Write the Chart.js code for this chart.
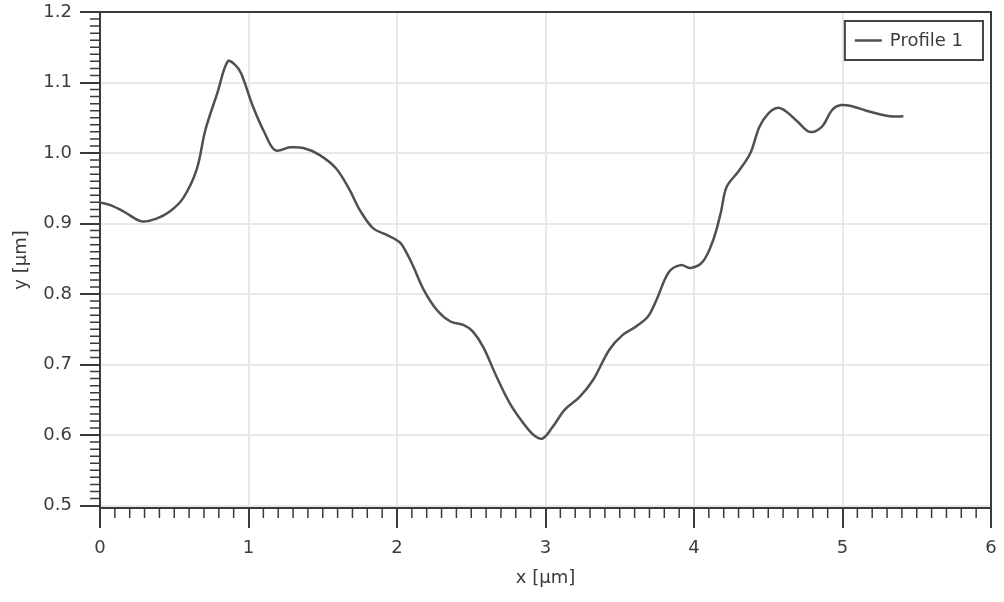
<!DOCTYPE html>
<html>
<head>
<meta charset="utf-8">
<script src="https://cdn.jsdelivr.net/npm/chart.js@4.4.1/dist/chart.umd.min.js"></script>
<style>
  html, body { margin: 0; padding: 0; background: #fff; }
</style>
</head>
<body>
<canvas id="chartProfile" width="1004" height="602"></canvas>
<script>
// profile: x in µm, y in µm
const xPos = [
  0.00, 0.07, 0.16, 0.28, 0.38, 0.47, 0.56, 0.65, 0.71, 0.79,
  0.86, 0.91, 0.95, 1.03, 1.11, 1.18, 1.28, 1.37, 1.48, 1.59,
  1.68, 1.75, 1.84, 1.93, 2.02, 2.06, 2.11, 2.18, 2.27, 2.36,
  2.45, 2.51, 2.58, 2.67, 2.76, 2.85, 2.92, 2.98, 3.05, 3.13,
  3.23, 3.32, 3.43, 3.52, 3.61, 3.69, 3.75, 3.83, 3.91, 3.98,
  4.06, 4.13, 4.18, 4.22, 4.30, 4.38, 4.44, 4.50, 4.56, 4.62,
  4.70, 4.78, 4.86, 4.93, 4.99, 5.07, 5.16, 5.25, 5.32, 5.41
];
const profile1 = [
  0.930, 0.926, 0.917, 0.903, 0.907, 0.917, 0.936, 0.976, 1.033, 1.085,
  1.130, 1.125, 1.113, 1.066, 1.028, 1.004, 1.008, 1.007, 0.997, 0.978,
  0.948, 0.919, 0.893, 0.884, 0.873, 0.860, 0.839, 0.806, 0.777, 0.761,
  0.756, 0.747, 0.725, 0.683, 0.645, 0.617, 0.600, 0.595, 0.612, 0.636,
  0.654, 0.678, 0.721, 0.742, 0.754, 0.768, 0.793, 0.831, 0.841, 0.837,
  0.846, 0.877, 0.915, 0.952, 0.974, 1.000, 1.037, 1.056, 1.064, 1.059,
  1.044, 1.030, 1.037, 1.061, 1.068, 1.066, 1.060, 1.055, 1.052, 1.052
];
const xTicks = [0, 1, 2, 3, 4, 5, 6];
const yTicks = [0.5, 0.6, 0.7, 0.8, 0.9, 1.0, 1.1, 1.2];
const seriesName = 'Profile 1';

const axisColor = '#3a3a3a';
const textColor = '#3c3c3c';

Chart.defaults.font.family = 'Verdana, "DejaVu Sans", sans-serif';
Chart.defaults.font.size = 18;
Chart.defaults.color = textColor;

// minor ticks, top/right frame and the boxed legend
const frameAndLegend = {
  id: 'frameAndLegend',
  afterDraw(chart) {
    const { ctx, chartArea: a } = chart;
    const x = chart.scales.x, y = chart.scales.y;
    ctx.save();
    ctx.strokeStyle = axisColor;
    ctx.lineWidth = 1.5;
    ctx.beginPath();
    for (let i = 1; i < 60; i++) {
      if (i % 10 === 0) continue;
      const px = x.getPixelForValue(i / 10);
      ctx.moveTo(px, a.bottom);
      ctx.lineTo(px, a.bottom + 10);
    }
    for (let i = 51; i < 120; i++) {
      if (i % 10 === 0) continue;
      const py = y.getPixelForValue(i / 100);
      ctx.moveTo(a.left - 10, py);
      ctx.lineTo(a.left, py);
    }
    ctx.stroke();

    ctx.lineWidth = 2;
    ctx.beginPath();
    ctx.moveTo(a.left - 20, a.top);
    ctx.lineTo(a.right, a.top);
    ctx.lineTo(a.right, a.bottom + 20);
    ctx.stroke();

    // legend
    ctx.font = '18px Verdana, "DejaVu Sans", sans-serif';
    const tw = ctx.measureText(seriesName).width;
    const boxW = 45 + tw + 20;
    const boxH = 39;
    const bx = a.right - 8 - boxW;
    const by = a.top + 9;
    ctx.fillStyle = '#fff';
    ctx.fillRect(bx, by, boxW, boxH);
    ctx.strokeStyle = '#444';
    ctx.lineWidth = 2;
    ctx.strokeRect(bx, by, boxW, boxH);
    ctx.strokeStyle = '#505050';
    ctx.lineWidth = 2.5;
    ctx.beginPath();
    ctx.moveTo(bx + 10, by + boxH / 2);
    ctx.lineTo(bx + 37, by + boxH / 2);
    ctx.stroke();
    ctx.fillStyle = textColor;
    ctx.textBaseline = 'middle';
    ctx.textAlign = 'left';
    ctx.fillText(seriesName, bx + 45, by + boxH / 2 + 1);
    ctx.restore();
  }
};

new Chart(document.getElementById('chartProfile'), {
  type: 'line',
  data: {
    datasets: [{
      label: seriesName,
      data: xPos.map((v, i) => ({ x: v, y: profile1[i] })),
      borderColor: '#505050',
      borderWidth: 2.5,
      pointRadius: 0,
      tension: 0.35,
      fill: false
    }]
  },
  options: {
    responsive: false,
    animation: false,
    devicePixelRatio: 1,
    layout: { padding: { left: 0, top: 12, right: 13, bottom: 0 } },
    plugins: {
      legend: { display: false },
      tooltip: { enabled: false }
    },
    scales: {
      x: {
        type: 'linear',
        min: 0,
        max: 6,
        afterBuildTicks: s => { s.ticks = xTicks.map(v => ({ value: v })); },
        afterFit: s => { s.height = 94; s.paddingLeft = 0; s.paddingRight = 0; },
        grid: { color: '#e8e8e8', lineWidth: 2, tickColor: axisColor, tickLength: 20, tickWidth: 2 },
        border: { color: axisColor, width: 2 },
        ticks: { padding: 10, maxRotation: 0, callback: v => String(v) },
        title: { display: true, text: 'x [µm]', padding: { top: 0, bottom: 13 } }
      },
      y: {
        min: 0.4965,
        max: 1.2,
        afterBuildTicks: s => { s.ticks = yTicks.map(v => ({ value: v })); },
        afterFit: s => { s.width = 100; s.paddingTop = 0; s.paddingBottom = 0; },
        grid: { color: '#e8e8e8', lineWidth: 2, tickColor: axisColor, tickLength: 20, tickWidth: 2 },
        border: { color: axisColor, width: 2 },
        ticks: { padding: 8, callback: v => v.toFixed(1) },
        title: { display: true, text: 'y [µm]', padding: { top: 11, bottom: 0 } }
      }
    }
  },
  plugins: [frameAndLegend]
});
</script>
</body>
</html>
